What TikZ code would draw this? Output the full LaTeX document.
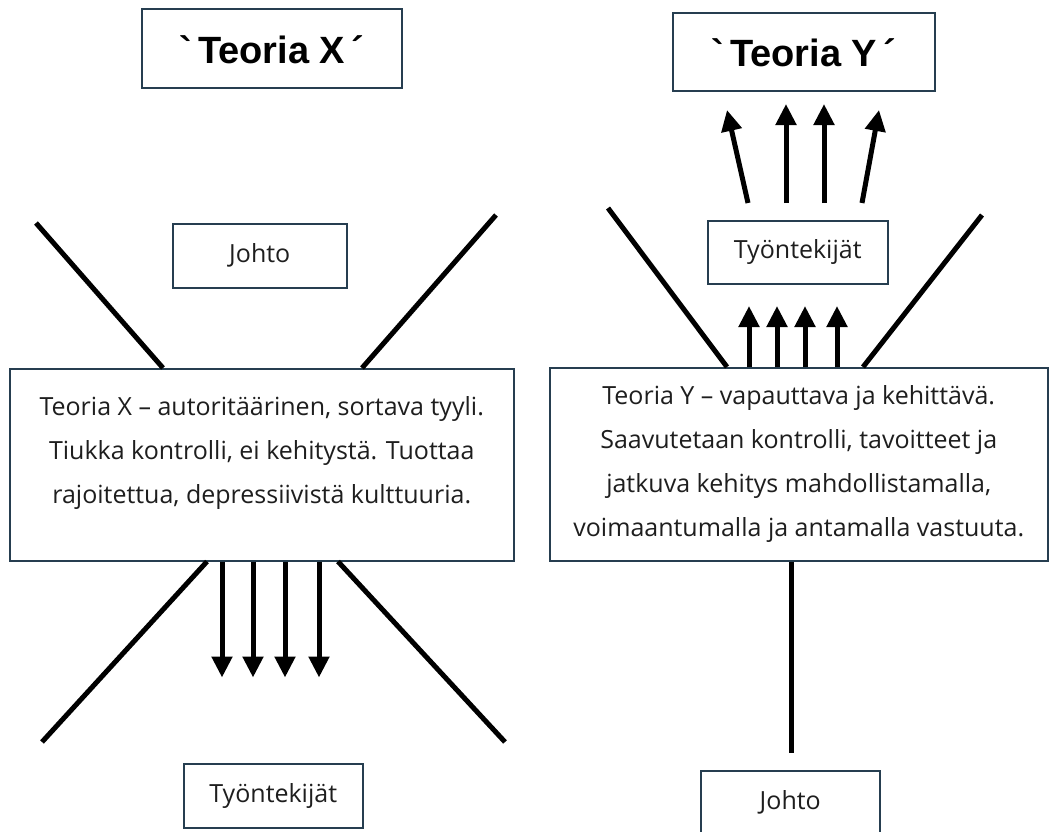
\documentclass[tikz,border=0pt]{standalone}
\usepackage{fontspec}
\setmainfont{Open Sans}
\newfontfamily\titlefont{Liberation Sans}[Ligatures=TeXOff]
\usetikzlibrary{arrows.meta,calc}
\definecolor{boxline}{RGB}{38,62,80}
\definecolor{txt}{RGB}{30,30,30}
\begin{document}
\begin{tikzpicture}[x=1pt,y=-1pt,
  box/.style={draw=boxline, line width=1.5pt, fill=white, inner sep=0pt, anchor=north west},
  bar/.style={line width=5pt, line cap=butt},
  arr/.style={line width=5pt,-{Triangle[width=20pt,length=21pt]}},
  body/.style={font=\fontsize{25}{44}\selectfont, align=center, text=txt},
  small/.style={font=\fontsize{25}{28}\selectfont, text=txt},
  ttl/.style={font=\titlefont\bfseries\fontsize{38}{40}\selectfont}]
\useasboundingbox (0,0) rectangle (1049,831);
% boxes
\node[box, minimum width=260pt, minimum height=79pt] (tx) at (141,8) {};
\node[ttl] (txt) at ($(tx.center)+(0,1)$) {\symbol{96}\,Teoria X\,´};
\node[box, minimum width=262pt, minimum height=78pt] (ty) at (672,12) {};
\node[ttl] (tyt) at ($(ty.center)+(0,1)$) {\symbol{96}\,Teoria Y\,´};
\node[box, minimum width=174pt, minimum height=64pt] (johtoL) at (172,223) {};
\node[small] (johtoLt) at (johtoL.center) {Johto};
\node[box, minimum width=180pt, minimum height=63pt] (tyoR) at (707,220) {};
\node[small] (tyoRt) at (tyoR.center) {Työntekijät};
\node[box, minimum width=504pt, minimum height=192pt] (xbox) at (9,368) {};
\node[body] (xtext) at ($(xbox.center)+(0,-12)$) {Teoria X – autoritäärinen, sortava tyyli.\\Tiukka kontrolli, ei kehitystä. Tuottaa\\rajoitettua, depressiivistä kulttuuria.};
\node[box, minimum width=498pt, minimum height=193pt] (ybox) at (549,367) {};
\node[body] (ytext) at ($(ybox.center)+(0,0)$) {Teoria Y – vapauttava ja kehittävä.\\Saavutetaan kontrolli, tavoitteet ja\\jatkuva kehitys mahdollistamalla,\\voimaantumalla ja antamalla vastuuta.};
\node[box, minimum width=179pt, minimum height=64pt] (tyoL) at (183,763) {};
\node[small] (tyoLt) at (tyoL.center) {Työntekijät};
\node[box, minimum width=179pt, minimum height=64pt] (johtoR) at (700,770) {};
\node[small] (johtoRt) at (johtoR.center) {Johto};
% free ends
\coordinate (xa) at (36,223);
\coordinate (xb) at (496,215);
\coordinate (xc) at (42,742);
\coordinate (xd) at (505,742);
\coordinate (ya) at (608,208);
\coordinate (yb) at (982,215);
\coordinate (yc) at (791,753);
% X lines
\draw[bar] (xa) -- ($(xbox.north west)+(154,0)$);
\draw[bar] (xb) -- ($(xbox.north west)+(353,0)$);
\draw[bar] ($(xbox.south west)+(198,0)$) -- (xc);
\draw[bar] ($(xbox.south west)+(329,0)$) -- (xd);
\foreach \dx in {213,244,276,310}
  \draw[arr] ($(xbox.south west)+(\dx,0)$) -- ($(xbox.south west)+(\dx,116)$);
% Y lines
\draw[bar] (ya) -- ($(ybox.north west)+(178,0)$);
\draw[bar] (yb) -- ($(ybox.north west)+(314,0)$);
\draw[bar] (ybox.south -| yc) -- (yc);
\foreach \dx in {200,228,256,288}
  \draw[arr] ($(ybox.north west)+(\dx,0)$) -- ($(ybox.north west)+(\dx,-61)$);
% top arrows
\draw[arr] ($(tyoR.north west)+(41,-17)$) -- ($(tyoR.north west)+(20,-110)$);
\draw[arr] ($(tyoR.north west)+(79,-17)$) -- ($(tyoR.north west)+(79,-116)$);
\draw[arr] ($(tyoR.north west)+(117,-17)$) -- ($(tyoR.north west)+(117,-116)$);
\draw[arr] ($(tyoR.north west)+(155,-17)$) -- ($(tyoR.north west)+(172,-110)$);
\end{tikzpicture}
\end{document}
